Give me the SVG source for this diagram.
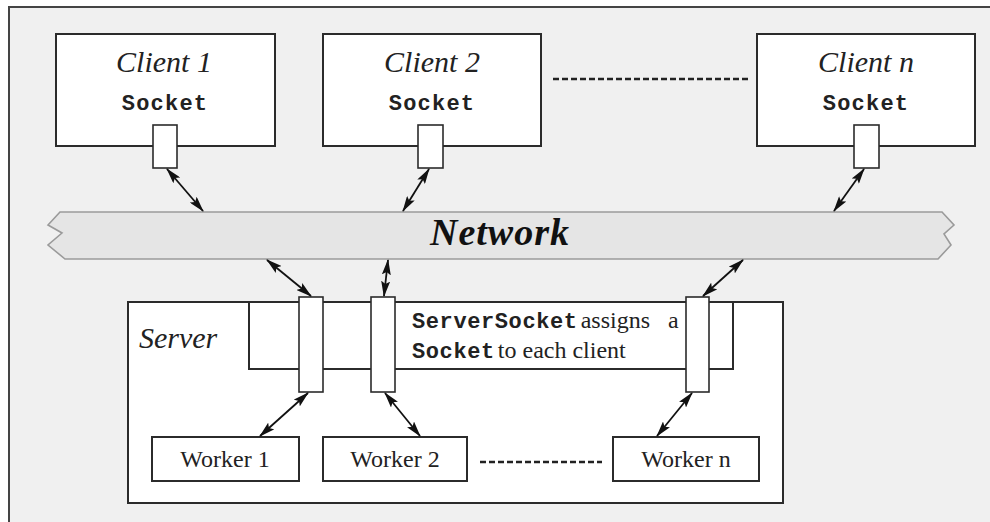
<svg xmlns="http://www.w3.org/2000/svg" width="990" height="522" viewBox="0 0 990 522">
  <style>
    .box { fill: #ffffff; stroke: #2b2b2b; stroke-width: 2; }
    .sock { fill: #ffffff; stroke: #2b2b2b; stroke-width: 1.6; }
    .link { stroke: #111111; stroke-width: 1.8; fill: none; marker-start: url(#head); marker-end: url(#head); }
    .dots { stroke: #222222; stroke-width: 2.5; stroke-dasharray: 6 3; fill: none; }
    .title { font-family: "Liberation Serif", "Times New Roman", serif; font-style: italic; font-size: 30px; fill: #222222; }
    .mono { font-family: "Liberation Mono", "Courier New", monospace; font-weight: bold; font-size: 22px; fill: #222222; }
    .serif { font-family: "Liberation Serif", "Times New Roman", serif; font-size: 24px; fill: #222222; }
  </style>
  <defs>
    <marker id="head" viewBox="0 0 16 9" refX="15" refY="4.5" markerWidth="16" markerHeight="9" markerUnits="userSpaceOnUse" orient="auto-start-reverse">
      <path d="M0,0 L16,4.5 L0,9 L3,4.5 Z" fill="#111111"/>
    </marker>
  </defs>

  <!-- page background and frame -->
  <rect x="0" y="0" width="990" height="522" fill="#ffffff"/>
  <rect x="9" y="7" width="990" height="530" fill="#f0f0f0"/>
  <path d="M9,522 L9,7 L990,7" fill="none" stroke="#444444" stroke-width="2"/>

  <!-- clients -->
  <g id="client1">
    <rect class="box" x="56" y="34" width="219" height="112"/>
    <text class="title" x="164" y="72" text-anchor="middle">Client 1</text>
    <text class="mono" x="165" y="110" text-anchor="middle" letter-spacing="1.2">Socket</text>
    <rect class="sock" x="153" y="125" width="24" height="43"/>
  </g>
  <g id="client2">
    <rect class="box" x="323" y="34" width="218" height="112"/>
    <text class="title" x="432" y="72" text-anchor="middle">Client 2</text>
    <text class="mono" x="432" y="110" text-anchor="middle" letter-spacing="1.2">Socket</text>
    <rect class="sock" x="418" y="125" width="25" height="43"/>
  </g>
  <g id="clientn">
    <rect class="box" x="757" y="34" width="218" height="112"/>
    <text class="title" x="866" y="72" text-anchor="middle">Client n</text>
    <text class="mono" x="866" y="110" text-anchor="middle" letter-spacing="1.2">Socket</text>
    <rect class="sock" x="854" y="125" width="25" height="43"/>
  </g>

  <!-- network band -->
  <g id="network">
    <path d="M60,212 L942,212 L954,225 L944,234 L951,245 L938,259 L65,259 L48,245 L62,233 L48,225 Z" fill="#e5e5e5" stroke="#9a9a9a" stroke-width="1.6"/>
    <text x="500" y="245" text-anchor="middle" font-family="'Liberation Serif', 'Times New Roman', serif" font-style="italic" font-weight="bold" font-size="38" letter-spacing="1" fill="#111111">Network</text>
  </g>

  <!-- server -->
  <g id="server">
    <rect class="box" x="128" y="302" width="655" height="201"/>
    <text class="title" x="139" y="348" font-size="33">Server</text>
    <rect class="box" x="249" y="302" width="484" height="67"/>
    <text x="412" y="328"><tspan class="mono" letter-spacing="0.6">ServerSocket</tspan><tspan class="serif" dx="3">assigns</tspan><tspan class="serif" x="668">a</tspan></text>
    <text x="412" y="358"><tspan class="mono" letter-spacing="0.6">Socket</tspan><tspan class="serif" dx="3">to each client</tspan></text>
    <rect class="sock" x="299" y="297" width="24" height="95"/>
    <rect class="sock" x="371" y="297" width="24" height="95"/>
    <rect class="sock" x="686" y="297" width="23" height="95"/>
  </g>

  <!-- workers -->
  <g id="worker1">
    <rect class="box" x="152" y="437" width="147" height="44"/>
    <text class="serif" x="225" y="467" text-anchor="middle" font-size="23">Worker 1</text>
  </g>
  <g id="worker2">
    <rect class="box" x="323" y="437" width="144" height="44"/>
    <text class="serif" x="395" y="467" text-anchor="middle" font-size="23">Worker 2</text>
  </g>
  <g id="workern">
    <rect class="box" x="613" y="437" width="146" height="44"/>
    <text class="serif" x="686" y="467" text-anchor="middle" font-size="23">Worker n</text>
  </g>

  <!-- connectors -->
  <g id="connectors">
    <line class="dots" x1="553" y1="79" x2="749" y2="79"/>
    <line class="dots" x1="480" y1="462" x2="602" y2="462"/>
    <line class="link" x1="167" y1="169" x2="203" y2="211"/>
    <line class="link" x1="429" y1="169" x2="403" y2="211"/>
    <line class="link" x1="864" y1="169" x2="834" y2="211"/>
    <line class="link" x1="267" y1="260" x2="311" y2="296"/>
    <line class="link" x1="388" y1="260" x2="384" y2="296"/>
    <line class="link" x1="743" y1="260" x2="703" y2="296"/>
    <line class="link" x1="308" y1="393" x2="260" y2="436"/>
    <line class="link" x1="385" y1="393" x2="420" y2="436"/>
    <line class="link" x1="692" y1="393" x2="657" y2="436"/>
  </g>
</svg>
